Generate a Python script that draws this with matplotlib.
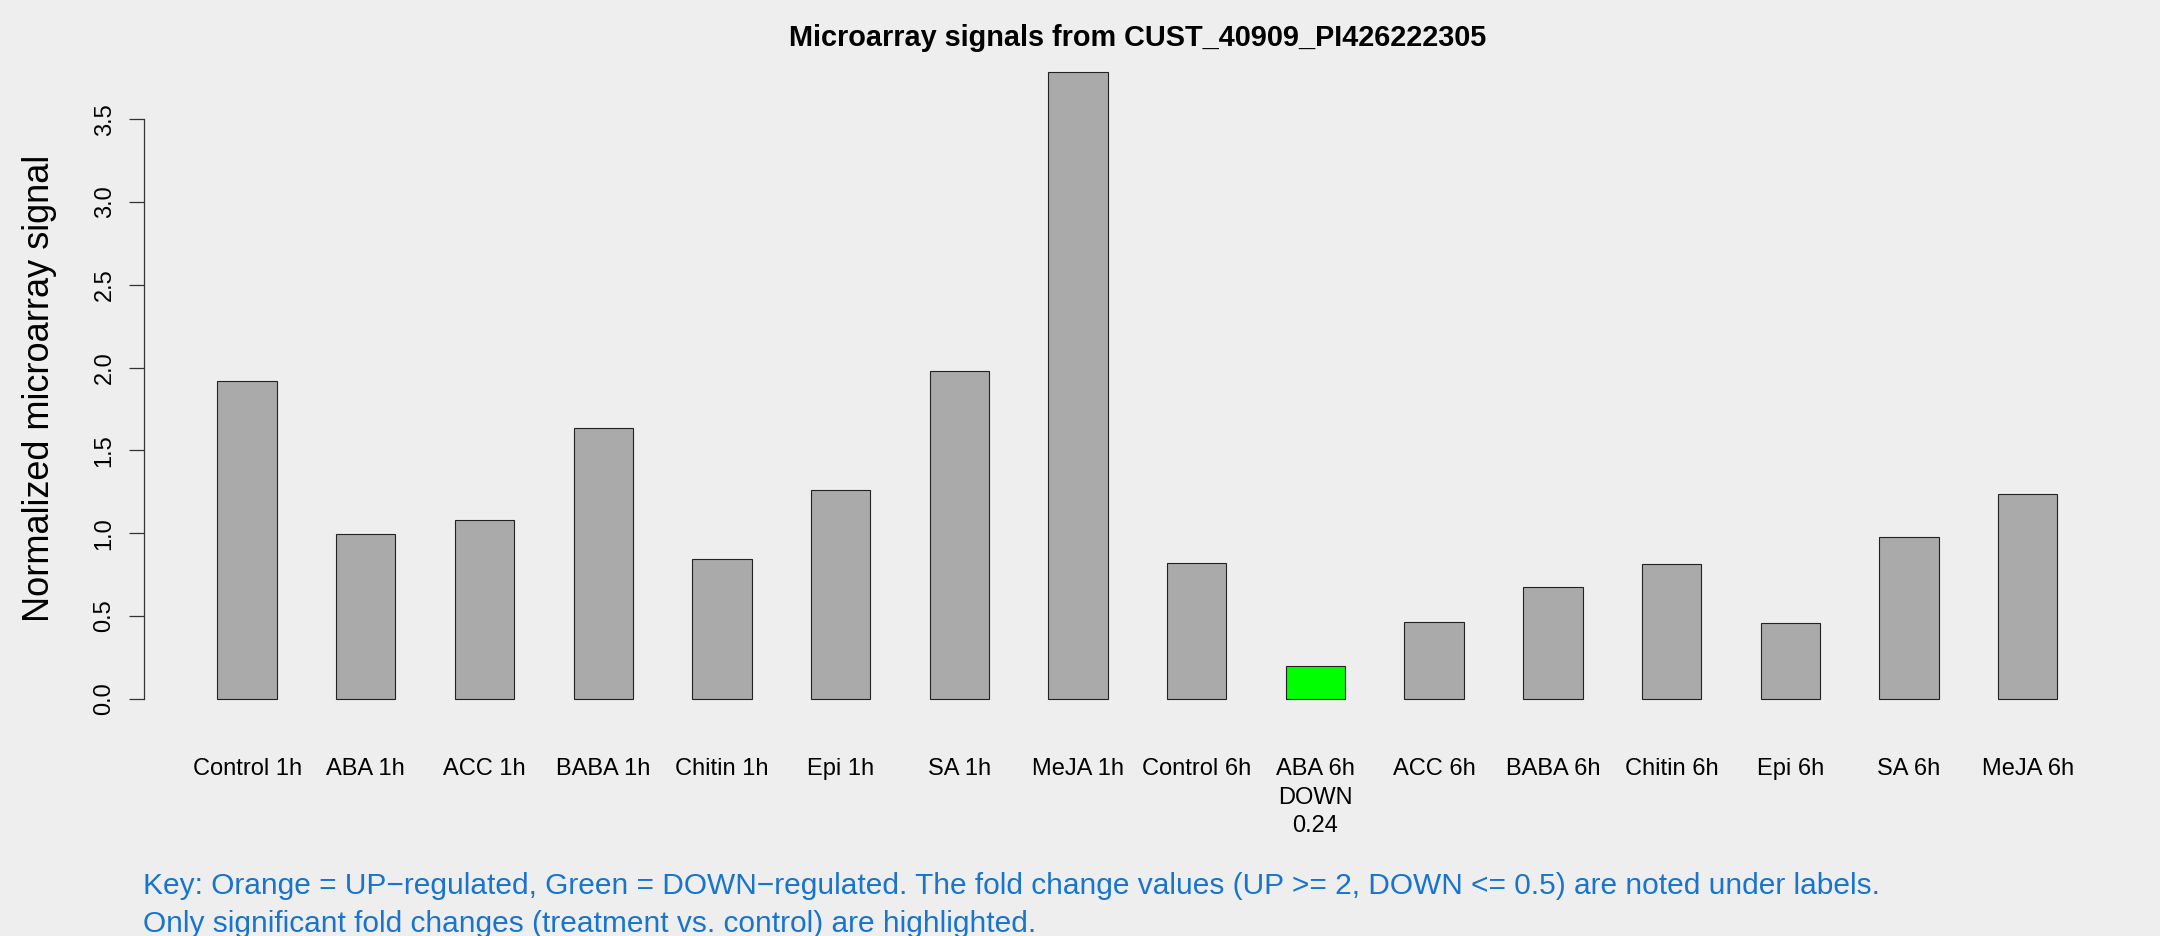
import numpy as np
import matplotlib
matplotlib.use("Agg")
import matplotlib.pyplot as plt
import matplotlib.transforms as mtransforms

# Data
conditions = ['Control 1h', 'ABA 1h', 'ACC 1h', 'BABA 1h', 'Chitin 1h', 'Epi 1h',
              'SA 1h', 'MeJA 1h', 'Control 6h', 'ABA 6h', 'ACC 6h', 'BABA 6h',
              'Chitin 6h', 'Epi 6h', 'SA 6h', 'MeJA 6h']
signals = [1.922, 0.993, 1.079, 1.636, 0.843, 1.259, 1.979, 3.785,
           0.818, 0.200, 0.466, 0.677, 0.8125, 0.455, 0.979, 1.237]
regulation = ['', '', '', '', '', '', '', '',
              '', 'DOWN', '', '', '', '', '', '']
fold_change = [None, None, None, None, None, None, None, None,
               None, 0.24, None, None, None, None, None, None]
y_ticks = [0.0, 0.5, 1.0, 1.5, 2.0, 2.5, 3.0, 3.5]

probe = 'CUST_40909_PI426222305'
key_lines = [
    'Key: Orange = UP\u2212regulated, Green = DOWN\u2212regulated. The fold change values '
    '(UP >= 2, DOWN <= 0.5) are noted under labels.',
    'Only significant fold changes (treatment vs. control) are highlighted.',
]

BG = '#EEEEEE'
BAR_GREY = '#AAAAAA'
COLORS = {'': BAR_GREY, 'DOWN': '#00FF00', 'UP': '#FFA500'}
KEY_BLUE = '#1874CD'

plt.rcParams['font.family'] = ['Liberation Sans', 'DejaVu Sans']

W, H = 2160, 936
fig = plt.figure(figsize=(W / 100, H / 100), dpi=100, facecolor=BG)

# plot region in pixels (left, right, top, bottom measured from top-left)
left_px, right_px, top_px, bottom_px = 143.8, 2131.0, 47.0, 723.9
ax = fig.add_axes([left_px / W, 1 - bottom_px / H,
                   (right_px - left_px) / W, (bottom_px - top_px) / H])
ax.set_facecolor(BG)

# barplot layout like R: width 1, space 1
n = len(signals)
centers = 1.5 + 2 * np.arange(n)
bar_colors = [COLORS[r] for r in regulation]
ax.bar(centers, signals, width=1.0, color=bar_colors,
       edgecolor='#222222', linewidth=0.8)

x_lo, x_hi = centers[0] - 0.5, centers[-1] + 0.5
pad = 0.04 * (x_hi - x_lo)
ax.set_xlim(x_lo - pad, x_hi + pad)
ymax = max(signals)
ax.set_ylim(-0.04 * ymax, 1.04 * ymax)

for s in ['top', 'right', 'bottom']:
    ax.spines[s].set_visible(False)
ax.spines['left'].set_bounds(y_ticks[0], y_ticks[-1])
ax.spines['left'].set_linewidth(0.9)
ax.spines['left'].set_color('#333333')

ax.set_yticks(y_ticks)
ax.set_yticklabels([f'{t:.1f}' for t in y_ticks], rotation=90,
                   va='center', ha='right', fontsize=17)
ax.tick_params(axis='y', length=10.6, width=0.9, pad=9.7, color='#333333')
ax.set_xticks([])

# category labels, with fold change notes underneath
trans = mtransforms.blended_transform_factory(ax.transData, ax.transAxes)
for x, name, reg, fc in zip(centers, conditions, regulation, fold_change):
    lines = [name]
    if reg:
        lines += [reg, f'{fc:.2f}']
    for k, txt in enumerate(lines):
        ax.annotate(txt, xy=(x, 0), xycoords=trans,
                    xytext=(0, -51.2 - 28.7 * k), textcoords='offset pixels',
                    ha='center', va='baseline', fontsize=17)

fig.text(1137.5 / W, 1 - 45.5 / H, f'Microarray signals from {probe}',
         ha='center', va='baseline', fontsize=20.8, fontweight='bold')

fig.text(40 / W, 1 - 388 / H, 'Normalized microarray signal', rotation=90,
         ha='center', va='center', fontsize=26)

fig.text(143 / W, 1 - 894 / H, key_lines[0], ha='left', va='baseline',
         fontsize=21.5, color=KEY_BLUE)
fig.text(143 / W, 1 - 932 / H, key_lines[1], ha='left', va='baseline',
         fontsize=21.5, color=KEY_BLUE)

fig.savefig('out.png', dpi=100, facecolor=BG)
